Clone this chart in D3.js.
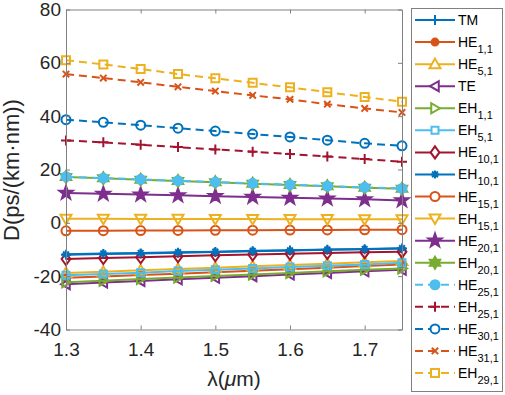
<!DOCTYPE html>
<html>
<head>
<meta charset="utf-8">
<script src="https://cdn.jsdelivr.net/npm/d3@7"></script>
<style>
html,body{margin:0;padding:0;background:#fff;}
svg{display:block;font-family:"Liberation Sans",Arial,sans-serif;}
</style>
</head>
<body>
<svg id="chart" width="505" height="395"></svg>
<script>
// ---- data ----
const wavelengths = [1.3,1.35,1.4,1.45,1.5,1.55,1.6,1.65,1.7,1.75];
const xTicks = [1.3,1.4,1.5,1.6,1.7];
const yTicks = [-40,-20,0,20,40,60,80];
const modeBase = ["TM","HE","HE","TE","EH","EH","HE","EH","HE","EH","HE","EH","HE","EH","HE","HE","EH"];
const modeSub  = ["","1,1","5,1","","1,1","5,1","10,1","10,1","15,1","15,1","20,1","20,1","25,1","25,1","30,1","31,1","29,1"];

const TM    = [-12.0,-11.7,-11.5,-11.2,-10.9,-10.7,-10.4,-10.1,-9.9,-9.6];
const HE1_1 = [-20.6,-20.1,-19.6,-19.1,-18.5,-18.0,-17.4,-16.8,-16.2,-15.6];
const HE5_1 = [-18.8,-18.3,-17.8,-17.3,-16.8,-16.3,-15.8,-15.3,-14.8,-14.3];
const TE    = [-23.0,-22.4,-21.8,-21.2,-20.6,-20.0,-19.4,-18.8,-18.2,-17.6];
const EH1_1 = [-22.3,-21.7,-21.1,-20.5,-19.9,-19.4,-18.8,-18.2,-17.6,-17.1];
const EH5_1 = [-19.7,-19.2,-18.7,-18.1,-17.6,-17.1,-16.6,-16.1,-15.6,-15.0];
const HE10_1= [-13.6,-13.2,-12.9,-12.5,-12.2,-11.9,-11.6,-11.3,-11.0,-10.8];
const EH10_1= [-11.8,-11.5,-11.3,-11.0,-10.8,-10.5,-10.3,-10.0,-9.8,-9.5];
const HE15_1= [-3.0,-2.95,-2.9,-2.85,-2.8,-2.75,-2.7,-2.65,-2.6,-2.55];
const EH15_1= [1.5,1.5,1.45,1.45,1.4,1.4,1.35,1.35,1.3,1.3];
const HE20_1= [11.2,10.9,10.6,10.3,10.0,9.7,9.4,9.1,8.8,8.4];
const EH20_1= [17.2,16.7,16.2,15.7,15.2,14.7,14.2,13.7,13.2,12.8];
const HE25_1= [17.3,16.8,16.3,15.8,15.3,14.8,14.3,13.8,13.3,12.9];
const EH25_1= [30.9,30.2,29.3,28.4,27.5,26.7,25.8,24.9,23.9,22.9];
const HE30_1= [38.7,37.7,36.6,35.5,34.4,33.3,32.2,31.0,29.8,28.9];
const HE31_1= [55.8,54.3,52.7,51.0,49.4,47.8,46.3,44.5,42.9,41.4];
const EH29_1= [61.0,59.4,57.7,55.8,54.2,52.5,50.8,49.0,47.2,45.4];

const seriesValues = [TM,HE1_1,HE5_1,TE,EH1_1,EH5_1,HE10_1,EH10_1,HE15_1,EH15_1,HE20_1,EH20_1,HE25_1,EH25_1,HE30_1,HE31_1,EH29_1];

// ---- styles ----
const palette = ["#0072BD","#D95319","#EDB120","#7E2F8E","#77AC30","#4DBEEE","#A2142F"];
const markerKinds = ["plus","dot","up","left","right","square","diamond","star","circle","down","penta","hexa","fcircle","plus","circle","cross","square"];
const markerR     = [5,3.5,5.5,5,5,3.5,5.5,4,4.5,5.5,7,6,4.5,5,4.5,4,4];
const dashedFrom = 12;

function markerPath(kind, r){
  const p = d3.path();
  const poly = pts => { pts.forEach((q,i)=> i? p.lineTo(q[0],q[1]) : p.moveTo(q[0],q[1])); p.closePath(); };
  const star = (n, ro, ri, rot) => {
    const pts=[];
    for(let i=0;i<2*n;i++){
      const a = rot + i*Math.PI/n;
      const rr = i%2===0? ro: ri;
      pts.push([rr*Math.cos(a), rr*Math.sin(a)]);
    }
    poly(pts);
  };
  switch(kind){
    case "plus": p.moveTo(-r,0);p.lineTo(r,0);p.moveTo(0,-r);p.lineTo(0,r);break;
    case "cross": {const s=r*0.8;p.moveTo(-s,-s);p.lineTo(s,s);p.moveTo(-s,s);p.lineTo(s,-s);break;}
    case "star": {const s=r*0.72;p.moveTo(-r,0);p.lineTo(r,0);p.moveTo(0,-r);p.lineTo(0,r);p.moveTo(-s,-s);p.lineTo(s,s);p.moveTo(-s,s);p.lineTo(s,-s);break;}
    case "dot": case "fcircle": case "circle": p.moveTo(r,0);p.arc(0,0,r,0,2*Math.PI);break;
    case "up": poly([[0,-r],[r,r*0.75],[-r,r*0.75]]);break;
    case "down": poly([[0,r],[r,-r*0.75],[-r,-r*0.75]]);break;
    case "left": poly([[-r,0],[r*0.75,-r],[r*0.75,r]]);break;
    case "right": poly([[r,0],[-r*0.75,-r],[-r*0.75,r]]);break;
    case "square": poly([[-r,-r],[r,-r],[r,r],[-r,r]]);break;
    case "diamond": poly([[0,-r*1.1],[r*0.8,0],[0,r*1.1],[-r*0.8,0]]);break;
    case "penta": star(5,r,r*0.4,-Math.PI/2);break;
    case "hexa": star(6,r,r*0.58,-Math.PI/2);break;
  }
  return p.toString();
}
const filledKinds = new Set(["dot","fcircle","penta","hexa"]);

// ---- layout ----
const svg = d3.select("#chart");
const x = d3.scaleLinear().domain([1.3,1.75]).range([66,402]);
const y = d3.scaleLinear().domain([-40,80]).range([329.5,9.5]);
const axisColor = "#808080";
const textColor = "#262626";

const plot = svg.append("g");

// series
const line = d3.line().x((d,i)=>x(wavelengths[i])).y(d=>y(d));
seriesValues.forEach((vals, si) => {
  const col = palette[si % palette.length];
  const g = plot.append("g");
  g.append("path").attr("d", line(vals)).attr("fill","none")
    .attr("stroke", col).attr("stroke-width", 2)
    .attr("stroke-dasharray", si >= dashedFrom ? "8,5" : null);
  const kind = markerKinds[si];
  g.selectAll("path.m").data(vals).join("path").attr("class","m")
    .attr("d", markerPath(kind, markerR[si]))
    .attr("transform", (d,i)=>`translate(${x(wavelengths[i])},${y(d)})`)
    .attr("fill", filledKinds.has(kind) ? col : "none")
    .attr("stroke", col).attr("stroke-width", 2);
});

// axes
function styleAxis(g){
  g.select(".domain").attr("stroke", axisColor).attr("stroke-width",1);
  g.selectAll(".tick line").attr("stroke", axisColor);
  g.selectAll(".tick text").attr("fill", textColor).attr("font-size", 19)
    .attr("font-family", "'Liberation Sans', Arial, sans-serif");
}
svg.append("g").attr("transform","translate(66,0)")
  .call(d3.axisLeft(y).tickValues(yTicks).tickSizeInner(-4).tickSizeOuter(0).tickPadding(5).tickFormat(d => String(d)))
  .call(styleAxis);
svg.append("g").attr("transform","translate(402,0)")
  .call(d3.axisRight(y).tickValues(yTicks).tickSizeInner(-4).tickSizeOuter(0).tickFormat(""))
  .call(styleAxis);
svg.append("g").attr("transform","translate(0,329.5)")
  .call(d3.axisBottom(x).tickValues(xTicks).tickSizeInner(-4).tickSizeOuter(0).tickPadding(13).tickFormat(d3.format(".1f")))
  .call(styleAxis);
svg.append("g").attr("transform","translate(0,9.5)")
  .call(d3.axisTop(x).tickValues(xTicks).tickSizeInner(-4).tickSizeOuter(0).tickFormat(""))
  .call(styleAxis);

// axis labels
const xl = svg.append("text").attr("x", 234).attr("y", 386).attr("text-anchor","middle")
  .attr("font-size", 21).attr("fill", textColor);
xl.append("tspan").text("λ(");
xl.append("tspan").attr("font-style","italic").text("μ");
xl.append("tspan").text("m)");

svg.append("text").attr("transform","translate(19,170) rotate(-90)").attr("text-anchor","middle")
  .attr("font-size", 22).attr("fill", textColor).text("D(ps/(km·nm))");

// legend
const leg = svg.append("g");
leg.append("rect").attr("x",411.5).attr("y",8.5).attr("width",91).attr("height",383)
  .attr("fill","#fff").attr("stroke", axisColor).attr("stroke-width",1);
const legY = d3.scaleLinear().domain([0, modeBase.length-1]).range([20, 373]);
modeBase.forEach((name, si) => {
  const col = palette[si % palette.length];
  const yy = legY(si);
  const g = leg.append("g");
  g.append("line").attr("x1",415).attr("x2",455).attr("y1",yy).attr("y2",yy)
    .attr("stroke", col).attr("stroke-width",2)
    .attr("stroke-dasharray", si >= dashedFrom ? "8,5" : null);
  const kind = markerKinds[si];
  g.append("path").attr("d", markerPath(kind, markerR[si]))
    .attr("transform",`translate(435,${yy})`)
    .attr("fill", filledKinds.has(kind) ? col : "#fff")
    .attr("stroke", col).attr("stroke-width",2);
  const t = g.append("text").attr("x",458).attr("y",yy+5).attr("font-size",14).attr("fill","#000");
  t.append("tspan").text(name);
  if (modeSub[si]) t.append("tspan").attr("font-size",11).attr("dy",6).text(modeSub[si]);
});
</script>
</body>
</html>
